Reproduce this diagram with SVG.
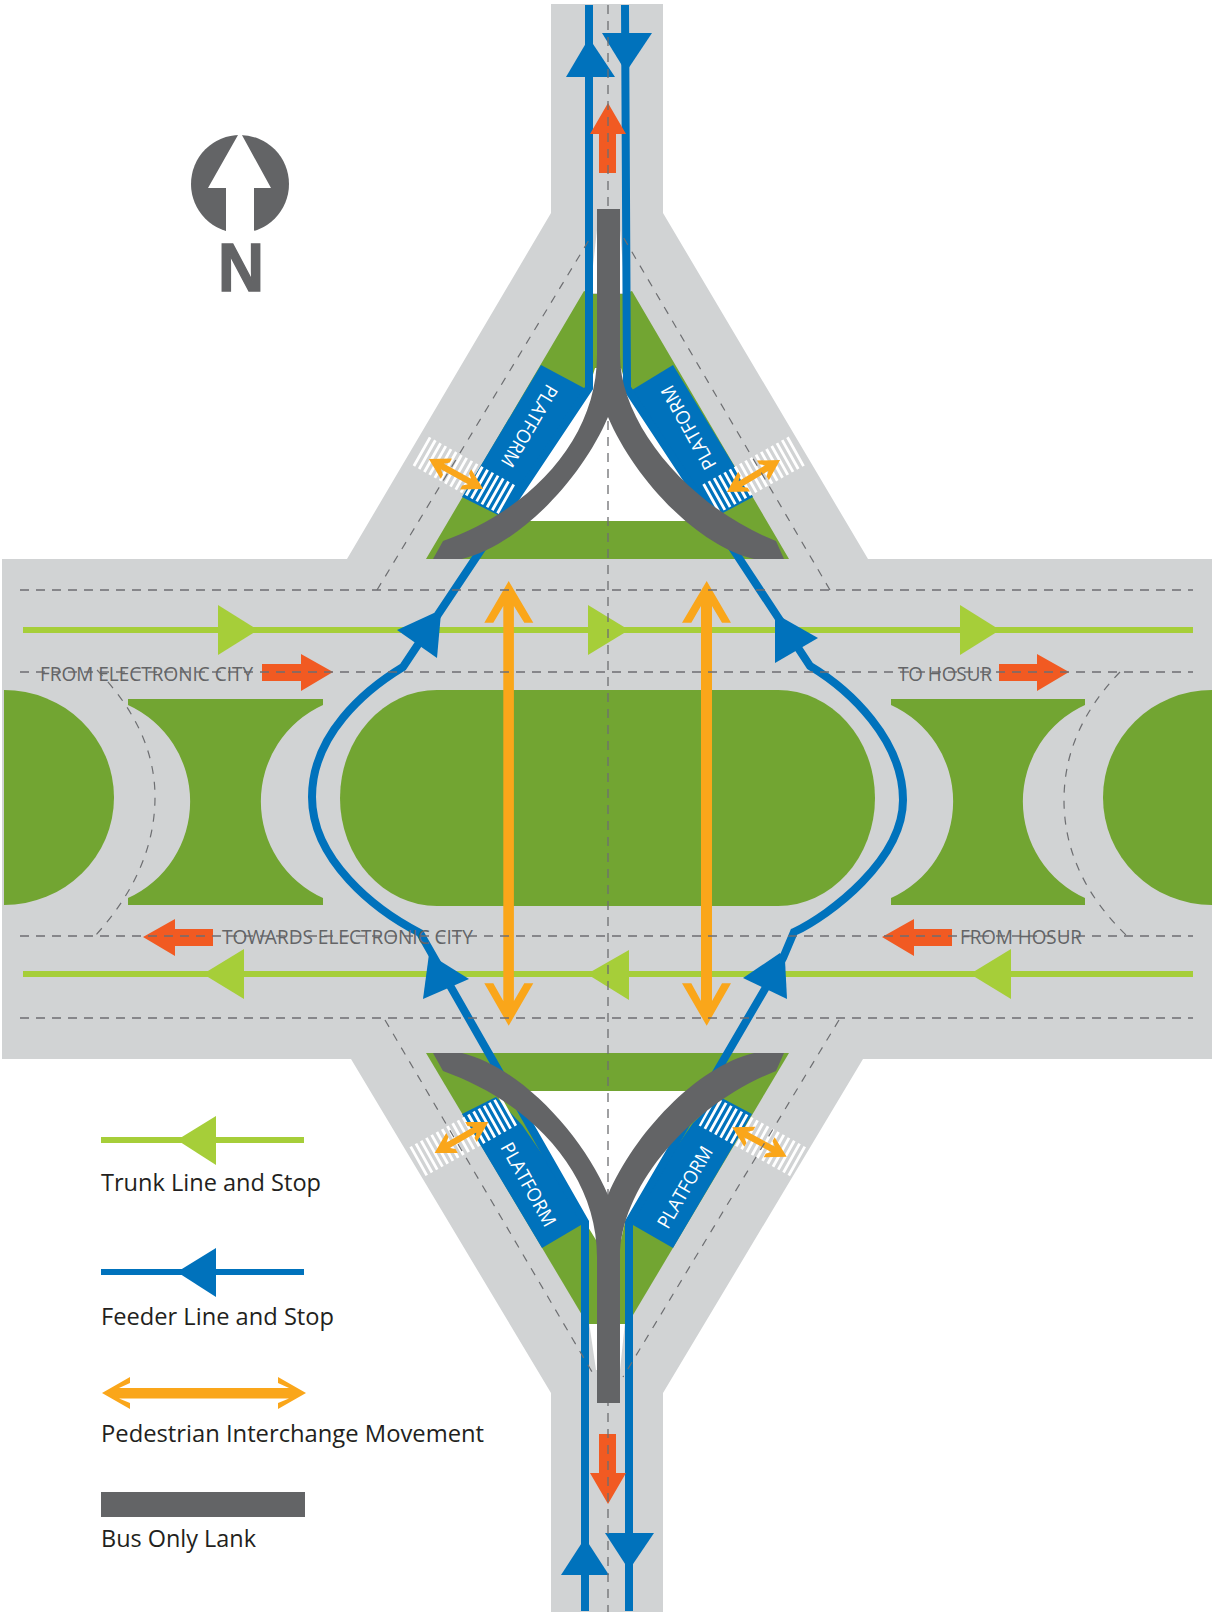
<svg xmlns="http://www.w3.org/2000/svg" xmlns:xlink="http://www.w3.org/1999/xlink" width="1212" height="1614" viewBox="0 0 1212 1614">
<style>
.road{fill:#d1d3d4}
.grn{fill:#72a532}
.wht{fill:#fff}
.plat{fill:#0072bc}
.blue{fill:#0072bc}
.feeder{fill:none;stroke:#0072bc;stroke-width:8}
.trunk{fill:none;stroke:#a6ce39;stroke-width:6}
.tstop{fill:#a6ce39}
.red{fill:#f15a22}
.ped{fill:#faa61a}
.bar{fill:#636466}
.dash{fill:none;stroke:#6d6e71;stroke-width:1.3;stroke-dasharray:9 7}
.dash2{fill:none;stroke:#6d6e71;stroke-width:1.2;stroke-dasharray:8 8}
.xwalk{fill:none;stroke:#fff;stroke-width:33;stroke-dasharray:2.8 3.2}
.lab{font-family:"Open Sans","Noto Sans",sans-serif;font-size:20px;fill:#636466}
.leg{font-family:"Open Sans","Noto Sans",sans-serif;font-size:24px;fill:#231f20}
.pl{font-family:"Open Sans","Noto Sans",sans-serif;font-size:19px;fill:#fff}
</style>
<defs>
<path id="pedS" d="M-31 0L-11-11.5L-11-7L-15.5-3.2H15.5L11-7L11-11.5L31 0L11 11.5L11 7L15.5 3.2H-15.5L-11 7L-11 11.5Z"/>
</defs>
<rect width="1212" height="1614" fill="#fff"/>
<g id="road">
<path class="road" d="M551 4H663V213L868 559H1212V1059H863L663 1393V1612H551V1393L351 1059H2V559H347L551 213Z"/>
</g>
<g id="medians">
<path class="wht" d="M597 230H620L625 293H590Z"/>
<path class="wht" d="M589 1322H625L620 1370H596Z"/>
<path class="grn" d="M426 559L584 291L593 294H623L632 291L789 559Z"/>
<path class="grn" d="M426 1053H789L633 1315L625 1324H589L582 1315Z"/>
<path class="wht" d="M595 368H621L627 388L716 521H499L589 388Z"/>
<path class="wht" d="M596 1240H621L625 1222L703 1091H508L585 1222Z"/>
<path class="grn" d="M437 690H778A97 108 0 0 1 778 906H437A97 108 0 0 1 437 690Z"/>
<path class="grn" d="M4 690A110 107.5 0 0 1 4 905Z"/>
<path class="grn" d="M1212 690A109 107.5 0 0 0 1212 905Z"/>
<path class="grn" d="M128 699H323V705A106 106 0 0 0 323 898V905H128V898A106 106 0 0 0 128 705Z"/>
<path class="grn" d="M891 699H1085V705A106 106 0 0 0 1085 898V905H891V898A106 106 0 0 0 891 705Z"/>
</g>
<g id="platforms">
<path class="plat" d="M541 365L584 388L586 392L519 490L500 516L462 497Z"/>
<path class="plat" d="M673 365L632 390L630 392L692 493L721 514L753 497Z"/>
<path class="plat" d="M542 1248L581 1225L589 1222L522 1125L496 1097L462 1114Z"/>
<path class="plat" d="M673 1248L633 1225L625 1222L693 1123L720 1097L752 1114Z"/>
<path class="xwalk" d="M420.8 451L507.2 499.7"/>
<path class="xwalk" d="M796.7 451L709.3 499.7"/>
<path class="xwalk" d="M417.5 1161.7L509 1110.7"/>
<path class="xwalk" d="M798 1161.7L706.7 1111"/>
<text class="pl" transform="translate(547 383) rotate(120.5)" textLength="92" lengthAdjust="spacingAndGlyphs">PLATFORM</text>
<text class="pl" transform="translate(717 465) rotate(-119)" textLength="93" lengthAdjust="spacingAndGlyphs">PLATFORM</text>
<text class="pl" transform="translate(500 1147) rotate(61)" textLength="93" lengthAdjust="spacingAndGlyphs">PLATFORM</text>
<text class="pl" transform="translate(668 1230) rotate(-60)" textLength="91" lengthAdjust="spacingAndGlyphs">PLATFORM</text>
</g>
<g id="trunk-lines">
<path class="trunk" d="M23 630H1193"/>
<path class="trunk" d="M23 974H1193"/>
<path class="tstop" d="M218 605V655L258 630Z"/>
<path class="tstop" d="M588 605V655L629 630Z"/>
<path class="tstop" d="M960 605V655L1000 630Z"/>
<path class="tstop" d="M244 949V999L203 974Z"/>
<path class="tstop" d="M629 950V1000L587 974Z"/>
<path class="tstop" d="M1011 949V999L970 974Z"/>
</g>
<g id="feeder-lines">
<path class="feeder" d="M589 5V388L403 667C365 690 312 735 312 797C312 860 375 910 420 933L585 1222V1611"/>
<path class="feeder" d="M625 5L627 388L810 666C850 690 903 740 903 800C903 860 830 915 794 932L783 958L629 1222V1611"/>
<path class="blue" d="M589 38L615 77H566Z"/>
<path class="blue" d="M602 33H652L626 72Z"/>
<path class="blue" d="M585 1538L609 1575H561Z"/>
<path class="blue" d="M605 1533H654L629 1570Z"/>
<path class="blue" d="M397 630L434 613L441 613L437 658Z"/>
<path class="blue" d="M775 619L781 617L818 638L775 663Z"/>
<path class="blue" d="M429 954L469 979L423 999Z"/>
<path class="blue" d="M780 953L785 960L787 999L743 978Z"/>
</g>
<g id="direction-arrows">
<path class="red" d="M262 664H301V654L333 672L301 691V681H262Z"/>
<path class="red" d="M999 664H1037V654L1069 672L1037 691V681H999Z"/>
<path class="red" d="M213 929H175V919L143 937L175 956V946H213Z"/>
<path class="red" d="M952 929H914V919L882 937L914 956V946H952Z"/>
<path class="red" d="M599 173V134H590L608 103L626 134H616V173Z"/>
<path class="red" d="M599 1434V1473H590L608 1504L626 1473H616V1434Z"/>
</g>
<g id="pedestrian-arrows">
<path class="ped" d="M508.7 581L533.3 622.7H524.3L513.9 606V1001L524.3 983.3H533.3L508.7 1025.7L484.3 983.3H493.3L503.3 1001V606L493.3 622.7H484.3Z"/>
<path class="ped" d="M706.7 581L731 622.7H722L712 606V1001L722 983.3H731L706.7 1025.7L682 983.3H691.3L701 1001V606L691.3 622.7H682Z"/>
<use xlink:href="#pedS" href="#pedS" class="ped" transform="translate(456 474) rotate(29)"/>
<use xlink:href="#pedS" href="#pedS" class="ped" transform="translate(753.5 476) rotate(-31)"/>
<use xlink:href="#pedS" href="#pedS" class="ped" transform="translate(461.5 1137.5) rotate(-30)"/>
<use xlink:href="#pedS" href="#pedS" class="ped" transform="translate(759.5 1142) rotate(28.6)"/>
</g>
<g id="dashes">
<path class="dash" d="M20 590H1193"/>
<path class="dash" d="M20 672H1193"/>
<path class="dash" d="M20 936H1193"/>
<path class="dash" d="M20 1018H1193"/>
<path class="dash" d="M608 5V1612"/>
<path class="dash2" d="M377 590L592 235"/>
<path class="dash2" d="M830 590L622 235"/>
<path class="dash2" d="M385 1020L595 1377"/>
<path class="dash2" d="M839 1020L623 1377"/>
<path class="dash2" d="M97 670Q155 730 155 797Q155 870 95 936"/>
<path class="dash2" d="M1120 672Q1064 730 1064 800Q1064 875 1127 936"/>
</g>
<g id="bus-lanes">
<path class="bar" d="M597 209H620V355C620 425 690 507 776 541L784 559H754C696 545 634 478 608 417C582 478 520 545 462 559H433L443 541C530 510 597 440 597 355Z"/>
<path class="bar" d="M597 1403H620V1257C620 1187 690 1105 776 1071L784 1053H754C696 1067 634 1134 608 1195C582 1134 520 1067 462 1053H433L443 1071C530 1102 597 1172 597 1257Z"/>
</g>
<g id="road-labels">
<text class="lab" x="40" y="681" textLength="213" lengthAdjust="spacingAndGlyphs">FROM ELECTRONIC CITY</text>
<text class="lab" x="222" y="944" textLength="251" lengthAdjust="spacingAndGlyphs">TOWARDS ELECTRONIC CITY</text>
<text class="lab" x="898" y="681" textLength="94" lengthAdjust="spacingAndGlyphs">TO HOSUR</text>
<text class="lab" x="960" y="944" textLength="122" lengthAdjust="spacingAndGlyphs">FROM HOSUR</text>
</g>
<g id="north">
<circle class="bar" cx="240" cy="184" r="49"/>
<path class="wht" d="M240 131.6L271 188H254V241H226V188H208Z"/>
<text x="218" y="291" font-family="'Liberation Sans',sans-serif" font-weight="700" font-size="69" fill="#636466" stroke="#636466" stroke-width="1.5" textLength="46" lengthAdjust="spacingAndGlyphs">N</text>
</g>
<g id="legend-trunk">
<path class="trunk" d="M101 1140H304"/>
<path class="tstop" d="M216 1116V1165L177 1140Z"/>
<text class="leg" x="101" y="1191" textLength="220" lengthAdjust="spacingAndGlyphs">Trunk Line and Stop</text>
</g>
<g id="legend-feeder">
<path class="feeder" style="stroke-width:6" d="M101 1272H304"/>
<path class="blue" d="M216 1248V1297L177 1272Z"/>
<text class="leg" x="101" y="1325" textLength="233" lengthAdjust="spacingAndGlyphs">Feeder Line and Stop</text>
</g>
<g id="legend-ped">
<path class="ped" d="M102 1393L130 1377V1383L119 1388H289L278 1383V1377L306 1393L278 1409V1403L289 1398.5H119L130 1403V1409Z"/>
<text class="leg" x="101" y="1442" textLength="383" lengthAdjust="spacingAndGlyphs">Pedestrian Interchange Movement</text>
</g>
<g id="legend-bus">
<rect class="bar" x="101" y="1492" width="204" height="25"/>
<text class="leg" x="101" y="1547" textLength="155" lengthAdjust="spacingAndGlyphs">Bus Only Lank</text>
</g>
</svg>
